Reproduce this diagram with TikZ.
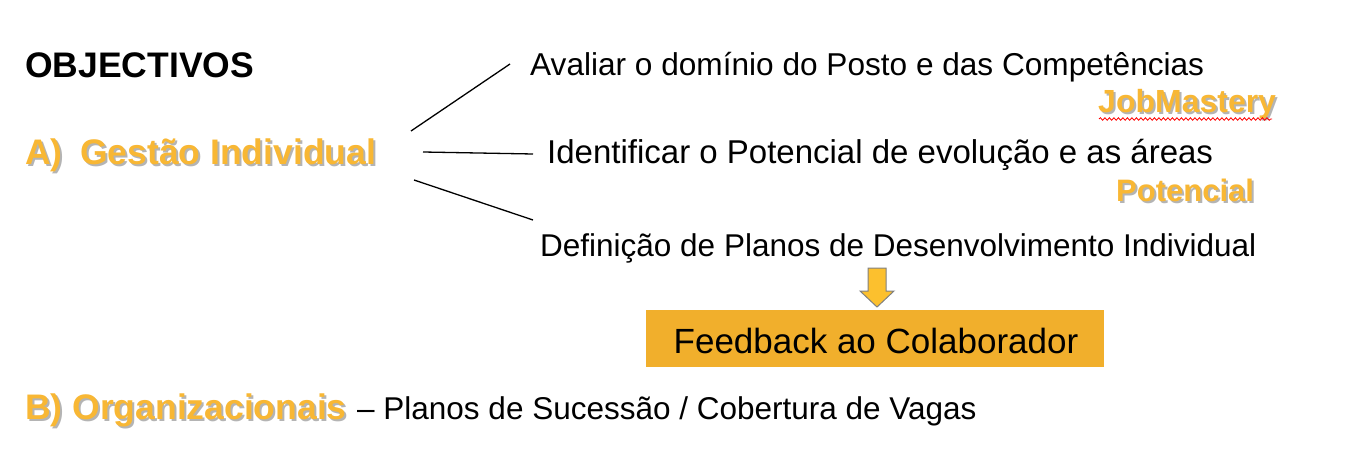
\documentclass[tikz,border=0pt]{standalone}
\usepackage{fontspec}
\setmainfont{Liberation Sans}
\usetikzlibrary{decorations.pathmorphing}
\definecolor{orangetxt}{RGB}{248,183,52}
\definecolor{boxfill}{RGB}{241,175,44}
\definecolor{arrowfill}{RGB}{252,192,46}
\definecolor{shadowgray}{RGB}{180,180,180}
\tikzset{
  x=1pt, y=-1pt,
  plain/.style={anchor=base west, inner sep=0pt, font=\fontsize{#1}{36}\selectfont},
  heading/.style={anchor=base west, inner sep=0pt, font=\fontsize{35.5}{38}\selectfont\bfseries},
  orangebold/.style={anchor=base west, inner sep=0pt, text=orangetxt, font=\fontsize{#1}{38}\selectfont\bfseries},
  shadowbold/.style={anchor=base west, inner sep=0pt, text=shadowgray, font=\fontsize{#1}{38}\selectfont\bfseries},
  link/.style={line width=1.3pt, black},
}
\begin{document}
\begin{tikzpicture}
\useasboundingbox (0,0) rectangle (1356,462);
% heading
\node[heading] (obj) at (25,78) {OBJECTIVOS};
% A) Gestao Individual with shadow
\node[shadowbold=35.5] at (27,167) {A)};
\node[shadowbold=35.5] at (82,167) {Gestão Individual};
\node[orangebold=35.5] (a) at (25,165) {A)};
\node[orangebold=35.5] (gi) at (80,165) {Gestão Individual};
% right-hand texts
\node[plain=31.6] (t1) at (530,76) {Avaliar o domínio do Posto e das Competências};
\node[shadowbold=32] at (1100,115) {JobMastery};
\node[orangebold=32] (jm) at (1098,113) {JobMastery};
\draw[red, line width=0.8pt, decorate, decoration={snake, segment length=4.5pt, amplitude=1.3pt}] (1099,119) -- (1272,119);
\node[plain=33] (t2) at (547,164) {Identificar o Potencial de evolução e as áreas};
\node[shadowbold=31] at (1118,204) {Potencial};
\node[orangebold=31] (pot) at (1116,202) {Potencial};
\node[plain=31.5] (t3) at (540,256) {Definição de Planos de Desenvolvimento Individual};
% connectors
\coordinate (l1a) at (411,131); \coordinate (l1b) at (510,64);
\coordinate (l2a) at (423,152); \coordinate (l2b) at (533,154);
\coordinate (l3a) at (414,180); \coordinate (l3b) at (533,220);
\draw[link] (l1a) -- (l1b);
\draw[link] (l2a) -- (l2b);
\draw[link] (l3a) -- (l3b);
% feedback box
\node[fill=boxfill, minimum width=458pt, minimum height=57pt, inner sep=0pt, anchor=north west] (fb) at (646,310) {};
\node[anchor=base, inner sep=0pt, font=\fontsize{35}{38}\selectfont] (fbt) at (876,353) {Feedback ao Colaborador};
% block arrow
\draw[fill=arrowfill, draw=gray, line width=1pt, line join=miter]
  (868,268) -- (886,268) -- (886,291) -- (894,291) -- (877,307) -- (860,291) -- (868,291) -- cycle;
\coordinate (arr) at (877,307);
% B) line
\node[shadowbold=35.5] at (27,421) {B) Organizacionais};
\node[orangebold=35.5] (b) at (25,419) {B) Organizacionais};
\node[plain=31.5] (bt) at (357,419) {– Planos de Sucessão / Cobertura de Vagas};
\end{tikzpicture}
\end{document}
